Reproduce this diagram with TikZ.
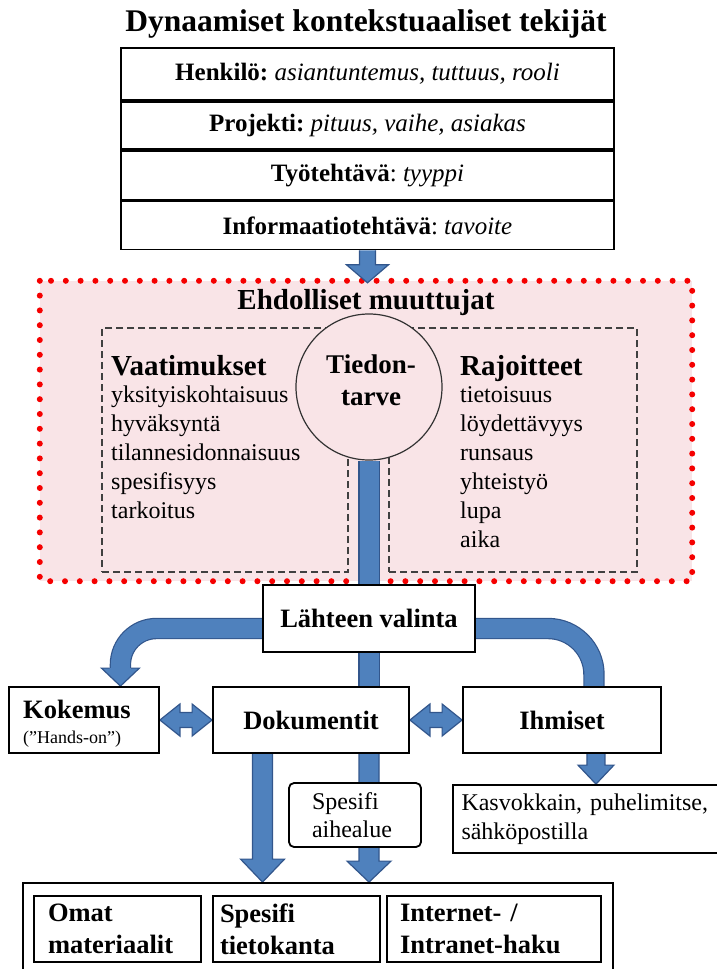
\documentclass[tikz,border=0pt]{standalone}
\usepackage{fontspec}
\setmainfont{Liberation Serif}
\usetikzlibrary{positioning,calc}
\frenchspacing

\definecolor{flowfill}{RGB}{79,129,189}
\definecolor{flowline}{RGB}{50,86,140}
\definecolor{condpink}{RGB}{249,228,231}
\definecolor{conddot}{RGB}{245,0,0}

\newcommand\titlesize{\fontsize{31.5}{36}\selectfont}
\newcommand\headsize{\fontsize{29}{33}\selectfont}
\newcommand\rowsize{\fontsize{25}{30}\selectfont}
\newcommand\boxsize{\fontsize{26.5}{32}\selectfont}
\newcommand\itemsize{\fontsize{24}{29}\selectfont}

% arrow head pointing down, tip at #1
\newcommand\headdown[3]{\filldraw[flow] let \p1=#1 in
  (\x1-10.7pt,\y1+#3) -- (\x1-#2,\y1+#3) -- (\x1,\y1) -- (\x1+#2,\y1+#3) -- (\x1+10.7pt,\y1+#3);}
% straight block arrow downwards
\newcommand\arrowdown[5]{\filldraw[flow] let \p1=#1, \p2=#2 in
  (\x1-#3,\y1) -- (\x1-#3,\y2+#5) -- (\x1-#4,\y2+#5) -- (\x1,\y2)
  -- (\x1+#4,\y2+#5) -- (\x1+#3,\y2+#5) -- (\x1+#3,\y1);}
% block arrow with two heads
\newcommand\twoway[2]{\filldraw[flow] let \p1=#1, \p2=#2 in
  (\x1,\y1) -- (\x1+20pt,\y1+16pt) -- (\x1+20pt,\y1+7.5pt) -- (\x2-20pt,\y1+7.5pt)
  -- (\x2-20pt,\y1+16pt) -- (\x2,\y1) -- (\x2-20pt,\y1-16pt) -- (\x2-20pt,\y1-7.5pt)
  -- (\x1+20pt,\y1-7.5pt) -- (\x1+20pt,\y1-16pt) -- cycle;}

\pgfdeclarelayer{bg}
\pgfdeclarelayer{flows}
\pgfsetlayers{bg,flows,main}

\tikzset{
  box/.style={draw=black, line width=1.8pt, fill=white, inner sep=0pt},
  row/.style={box, minimum width=493pt, minimum height=#1, font=\rowsize},
  shaft/.style={draw=flowline, line width=1.2pt, double=flowfill, double distance=19pt},
  flow/.style={draw=flowline, line width=1.2pt, fill=flowfill},
  dashbox/.style={draw=black!75, line width=1.5pt, dash pattern=on 7pt off 4pt},
  item/.style={anchor=base west, font=\itemsize, inner sep=0pt},
  head/.style={anchor=base west, font=\headsize\bfseries, inner sep=0pt},
}

\begin{document}
\begin{tikzpicture}[x=1pt, y=-1pt]
  \useasboundingbox (0,0) rectangle (717,969);
  \clip (0,0) rectangle (717,969);

  % contextual factors
  \node[anchor=base, font=\titlesize\bfseries] (title) at (366,31) {Dynaamiset kontekstuaaliset tekijät};
  \node[row=52pt] (henk) at (367.5,74) {\textbf{Henkilö:} \textit{asiantuntemus, tuttuus, rooli}};
  \node[row=47pt, below=0pt of henk] (proj) {\textbf{Projekti:} \textit{pituus, vaihe, asiakas}};
  \node[row=49pt, below=0pt of proj] (tyo) {\textbf{Työtehtävä}: \textit{tyyppi}};
  \node[row=48pt, below=0pt of tyo] (info) {\textbf{Informaatiotehtävä}: \textit{tavoite}};

  % conditional variables
  \begin{pgfonlayer}{bg}
    \node[fill=condpink, minimum width=652pt, minimum height=300pt] (cond) at (366,431) {};
    \draw[conddot, line width=6pt, dash pattern=on 0pt off 14.8pt, line cap=round]
      (cond.north west) rectangle (cond.south east);
    \node[dashbox, minimum width=246pt, minimum height=244pt] (req) at (225,450) {};
    \node[dashbox, minimum width=248pt, minimum height=244pt] (lim) at (513,450) {};
  \end{pgfonlayer}
  \node[anchor=base, font=\headsize\bfseries] (condtitle) at (366,309) {Ehdolliset muuttujat};
  \node[circle, draw=black!80, line width=1.2pt, fill=condpink, minimum size=146pt] (tiedon) at (369,387) {};
  \node[align=center, font=\fontsize{27}{32}\selectfont\bfseries] (tiedontext) at (371,380) {Tiedon-\\tarve};

  \node[head] (reqtitle) at (111,375) {Vaatimukset};
  \foreach \w [count=\i] in {yksityiskohtaisuus, hyväksyntä, tilannesidonnaisuus, spesifisyys, tarkoitus}
    \node[item] (req\i) at (111,373+29*\i) {\w};
  \node[head] (limtitle) at (460,375) {Rajoitteet};
  \foreach \w [count=\i] in {tietoisuus, löydettävyys, runsaus, yhteistyö, lupa, aika}
    \node[item] (lim\i) at (460,373+29*\i) {\w};

  % source selection
  \node[box, minimum width=212pt, minimum height=67pt, font=\boxsize\bfseries] (valinta) at (369,618.5) {Lähteen valinta};
  \node[box, minimum width=150pt, minimum height=66pt] (kok) at (84,720) {};
  \node[anchor=base west, inner sep=0pt, font=\boxsize\bfseries] (koktext) at (23,718) {Kokemus};
  \node[anchor=base west, inner sep=0pt, font=\fontsize{18}{20}\selectfont] (hands) at (23,743) {(”Hands-on”)};
  \node[box, minimum width=196pt, minimum height=66pt, font=\boxsize\bfseries] (dok) at (311,720) {Dokumentit};
  \node[box, minimum width=198pt, minimum height=66pt, font=\boxsize\bfseries] (ihm) at (562,720) {Ihmiset};
  \node[box, rounded corners=5pt, minimum width=132pt, minimum height=64pt, text width=86pt, align=left,
    font=\fontsize{24}{28}\selectfont] (area) at (355,815) {Spesifi\\aihealue};
  \node[box, minimum width=272pt, minimum height=68pt, text width=255pt, align=left,
    font=\fontsize{24}{29}\selectfont] (kasv) at (589,819) {Kasvokkain, puhelimitse,\\sähköpostilla};

  \node[box, minimum width=590pt, minimum height=92pt] (outer) at (318,929) {};
  \node[box, line width=2.2pt, minimum width=167pt, minimum height=66pt, text width=139pt, align=left,
    font=\boxsize\bfseries] (omat) at (117.5,929) {Omat\\materiaalit};
  \node[box, line width=2.2pt, minimum width=167pt, minimum height=66pt, text width=153pt, align=left,
    font=\boxsize\bfseries] (kanta) at (296.5,929) {Spesifi\\tietokanta};
  \node[box, line width=2.2pt, minimum width=214pt, minimum height=66pt, text width=188pt, align=left,
    font=\boxsize\bfseries] (haku) at (494,929) {Internet- /\\Intranet-haku};

  % block arrows
  \begin{pgfonlayer}{flows}
    \arrowdown{(info.south)}{($(cond.north)+(0,2)$)}{8pt}{21pt}{18pt}
    \draw[shaft] (tiedon.south) -- (valinta.north);
    \draw[shaft] (valinta.south) -- (valinta.south |- dok.north);
    \coordinate (kokin) at ($(kok.north west)!.74!(kok.north east)$);
    \draw[shaft, rounded corners=36pt] ($(valinta.west)+(2,10)$) -| ($(kokin)+(0,-17)$);
    \headdown{(kokin)}{19pt}{18pt}
    \coordinate (ihmin) at ($(ihm.north west)!.66!(ihm.north east)$);
    \draw[shaft, rounded corners=46pt] ($(valinta.east)+(-2,10)$) -| (ihmin);
    \twoway{(kok.east)}{(dok.west)}
    \twoway{(dok.east)}{(ihm.west)}
    \arrowdown{($(ihm.south west)!.67!(ihm.south east)$)}{(kasv.north)}{9pt}{18pt}{19pt}
    \arrowdown{($(dok.south west)!.255!(dok.south east)$)}{(outer.north)}{10pt}{22pt}{23pt}
    \arrowdown{(valinta.south |- dok.south)}{(outer.north)}{10pt}{22pt}{21pt}
  \end{pgfonlayer}
\end{tikzpicture}
\end{document}
